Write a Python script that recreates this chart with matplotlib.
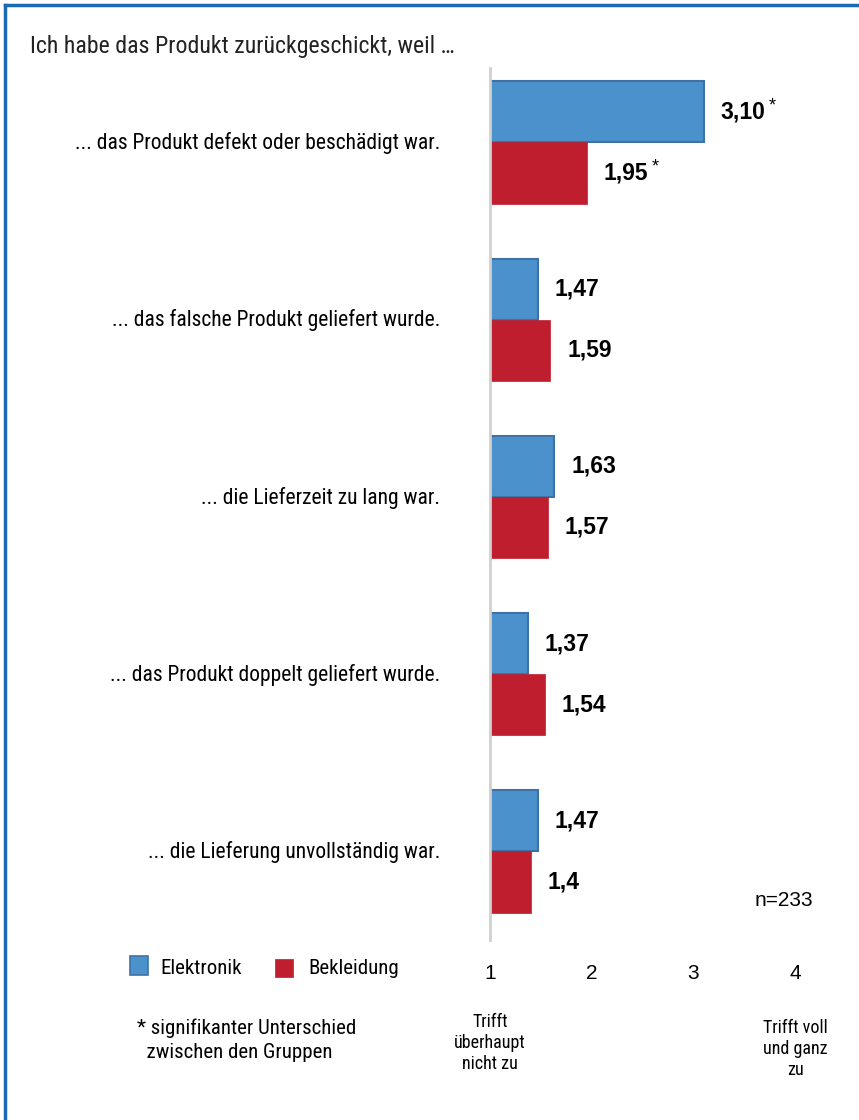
import numpy as np
import matplotlib
matplotlib.use("Agg")
import matplotlib.pyplot as plt
from matplotlib.patches import Rectangle

# Daten
gruende = ["... das Produkt defekt oder beschädigt war.",
           "... das falsche Produkt geliefert wurde.",
           "... die Lieferzeit zu lang war.",
           "... das Produkt doppelt geliefert wurde.",
           "... die Lieferung unvollständig war."]
elektronik = [3.10, 1.47, 1.63, 1.37, 1.47]
bekleidung = [1.95, 1.59, 1.57, 1.54, 1.40]
labels_elektronik = ["3,10", "1,47", "1,63", "1,37", "1,47"]
labels_bekleidung = ["1,95", "1,59", "1,57", "1,54", "1,4"]
signifikant = [True, False, False, False, False]
skala = [1, 2, 3, 4]

narrow = ["Roboto Condensed", "Archivo Narrow", "DejaVu Sans"]
arial = ["Liberation Sans", "DejaVu Sans"]
blau = "#4b92cc"
blau_rand = "#3f72a3"
rot = "#be1e2d"

W, H = 859, 1120
fig = plt.figure(figsize=(W / 100, H / 100), dpi=100)

def px(x, y):
    return x / W, 1 - y / H

# Rahmen oben und links
fig.add_artist(plt.Line2D([5 / W, 1], [1 - 5 / H, 1 - 5 / H], color="#1a6ab5", lw=2.5))
fig.add_artist(plt.Line2D([5 / W, 5 / W], [0, 1 - 5 / H], color="#1a6ab5", lw=2.5))

ax = fig.add_axes([490 / W, 1 - 940 / H, 356 / W, 872 / H])
y = np.arange(len(gruende))
h = 0.345
ax.barh(y - h / 2, np.array(elektronik) - 1, left=1, height=h, color=blau,
        edgecolor=blau_rand, linewidth=1.5)
ax.barh(y + h / 2, np.array(bekleidung) - 1, left=1, height=h, color=rot,
        edgecolor=rot, linewidth=0.5)
ax.set_xlim(1, 4.5)
ax.set_ylim(4.5, -0.42)
for s in ["top", "right", "bottom"]:
    ax.spines[s].set_visible(False)
ax.spines["left"].set_color("#d0d0d0")
ax.spines["left"].set_linewidth(2)
ax.set_yticks([])
ax.set_xticks(skala)
ax.set_xticklabels([str(s) for s in skala], family=arial, fontsize=15)
ax.tick_params(axis="x", length=0, pad=17)

for i in range(len(gruende)):
    ax.annotate(labels_elektronik[i], (elektronik[i], y[i] - h / 2), xytext=(17, 0),
                textcoords="offset pixels", va="center", ha="left",
                fontsize=16.5, fontweight="bold", family=arial)
    ax.annotate(labels_bekleidung[i], (bekleidung[i], y[i] + h / 2), xytext=(17, 0),
                textcoords="offset pixels", va="center", ha="left",
                fontsize=16.5, fontweight="bold", family=arial)
    if signifikant[i]:
        for wert, yy in [(elektronik[i], y[i] - h / 2), (bekleidung[i], y[i] + h / 2)]:
            ax.annotate("*", (wert, yy), xytext=(69, 6), textcoords="offset pixels",
                        va="center", ha="center", fontsize=13, family=arial)
    fig.text(*px(440, 143 + i * 177.3), gruende[i], ha="right", va="center",
             fontsize=15.5, family=narrow)

fig.text(*px(30, 47), "Ich habe das Produkt zurückgeschickt, weil …", ha="left",
         va="center", fontsize=17.2, family=narrow, color="#222222")
fig.text(*px(755, 900), "n=233", ha="left", va="center", fontsize=15, family=arial)

# Legende
fig.add_artist(Rectangle(px(130, 975), 18 / W, 19 / H, facecolor=blau,
                         edgecolor=blau_rand, lw=1.2))
fig.text(*px(160, 968), "Elektronik", ha="left", va="center", fontsize=15, family=narrow)
fig.add_artist(Rectangle(px(275, 977), 18 / W, 18 / H, facecolor=rot, edgecolor=rot, lw=0.5))
fig.text(*px(308, 968), "Bekleidung", ha="left", va="center", fontsize=15, family=narrow)

fig.text(*px(137, 1040), "* signifikanter Unterschied\n  zwischen den Gruppen", ha="left",
         va="center", fontsize=15, family=narrow, linespacing=1.35)
fig.text(*px(490, 1043), "Trifft\nüberhaupt\nnicht zu", ha="center", va="center",
         fontsize=13, family=narrow, linespacing=1.2)
fig.text(*px(795, 1049), "Trifft voll\nund ganz\nzu", ha="center", va="center",
         fontsize=13, family=narrow, linespacing=1.2)

fig.savefig("out.png", dpi=100)
